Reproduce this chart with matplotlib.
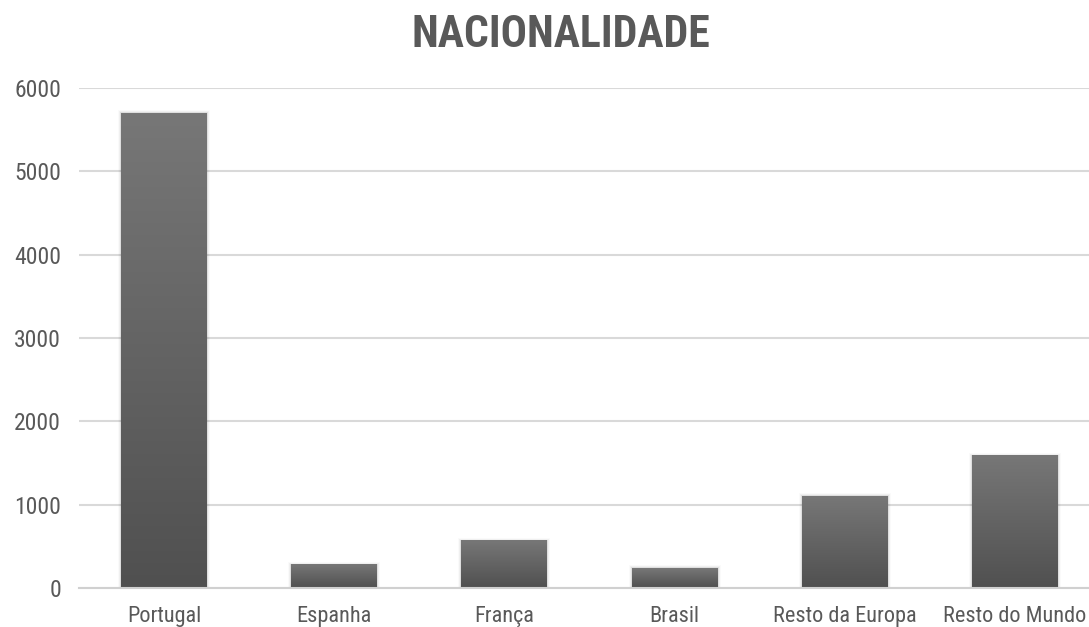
import matplotlib
matplotlib.use("Agg")
import matplotlib.pyplot as plt
import numpy as np

categories = ["Portugal", "Espanha", "França", "Brasil", "Resto da Europa", "Resto do Mundo"]
values = [5700, 280, 570, 240, 1100, 1590]
yticks = [0, 1000, 2000, 3000, 4000, 5000, 6000]

plt.rcParams["font.family"] = ["Roboto Condensed", "Archivo Narrow", "Liberation Sans Narrow", "Roboto", "DejaVu Sans"]

text_color = "#595959"
grid_color = "#d9d9d9"

fig = plt.figure(figsize=(10.89, 6.27), dpi=100)
ax = fig.add_axes([79 / 1089, 39 / 627, 1 - 79 / 1089, 500 / 627])

x = np.arange(len(categories))
bar_w = 0.505
bars = ax.bar(x, values, width=bar_w, color="none", edgecolor="none", zorder=3)

# vertical gradient in each bar, light at top, dark at bottom
grad = np.linspace(0, 1, 256).reshape(-1, 1)
cmap = matplotlib.colors.LinearSegmentedColormap.from_list("g", ["#505050", "#777777"])
for b in bars:
    x0, y0 = b.get_x(), b.get_y()
    w, h = b.get_width(), b.get_height()
    # soft shadow around the bar
    for i, a in enumerate([0.07, 0.04, 0.02]):
        sh = plt.Rectangle((x0 - 0.006 * (i + 1), y0), w + 0.012 * (i + 1), h + 12 * (i + 1),
                           color="black", alpha=a, lw=0, zorder=2)
        ax.add_patch(sh)
    ax.imshow(grad, extent=[x0, x0 + w, y0, y0 + h], origin="lower",
              cmap=cmap, aspect="auto", zorder=3, interpolation="bilinear")

ax.set_xlim(-0.5, 5.435)
ax.set_ylim(0, 6000)
ax.set_yticks(yticks)
ax.set_xticks(x)
ax.set_xticklabels(categories)

ax.yaxis.grid(True, color=grid_color, lw=1.5, zorder=0)
ax.set_axisbelow(True)
for s in ["top", "right", "left"]:
    ax.spines[s].set_visible(False)
ax.spines["bottom"].set_color("#d0d0d0")
ax.spines["bottom"].set_linewidth(1.5)
ax.spines["bottom"].set_zorder(4)

ax.tick_params(axis="both", length=0, colors=text_color)
ax.tick_params(axis="x", labelsize=16, pad=13)
ax.tick_params(axis="y", labelsize=17, pad=13)

fig.text(561 / 1089, 0.944, "NACIONALIDADE", ha="center", va="center",
         fontsize=31.5, fontweight="bold", color=text_color)

fig.savefig("out.png", dpi=100)
